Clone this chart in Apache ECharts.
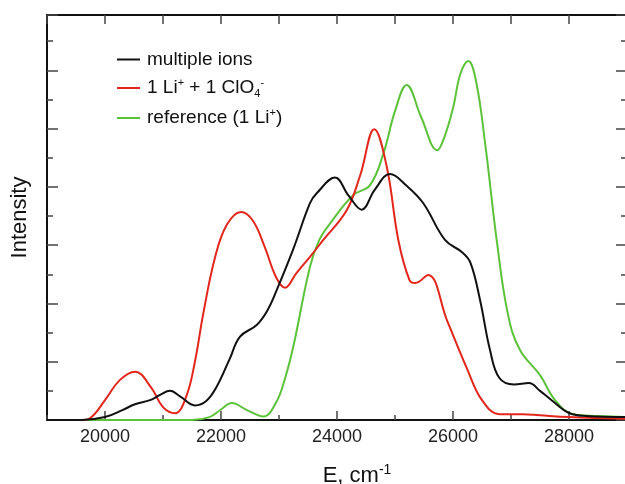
<!DOCTYPE html>
<html>
<head>
<meta charset="utf-8">
<script src="https://cdn.jsdelivr.net/npm/echarts@6/dist/echarts.min.js"></script>
<style>html,body{margin:0;padding:0;background:#fff}#c{width:625px;height:484px}</style>
</head>
<body>
<div id="c"></div>
<script>
// ---- data ----
var seriesNames = ['multiple ions', '1 Li+ + 1 ClO4-', 'reference (1 Li+)'];
var xTickLabels = ['20000', '22000', '24000', '26000', '28000'];

var blackE = [19000, 19600, 20000, 20300, 20517, 20776, 20950, 21121, 21300, 21552, 21750, 21925, 22150, 22328, 22615, 22800, 22960, 23241, 23534, 23650, 23966, 24200, 24426, 24650, 24914, 25200, 25488, 25862, 26155, 26300, 26466, 26638, 26800, 27052, 27310, 27500, 27700, 28000, 28300, 29000];
var blackI = [0.0, 0.0, 0.05, 0.17, 0.27, 0.34, 0.43, 0.50, 0.40, 0.25, 0.33, 0.57, 1.05, 1.43, 1.63, 1.88, 2.23, 2.92, 3.72, 3.89, 4.16, 3.85, 3.61, 3.95, 4.22, 4.02, 3.72, 3.09, 2.88, 2.70, 2.06, 1.20, 0.72, 0.61, 0.635, 0.50, 0.34, 0.12, 0.07, 0.05];

var redE = [19000, 19600, 19741, 20000, 20250, 20517, 20800, 21000, 21207, 21400, 21550, 21695, 21900, 22100, 22345, 22550, 22750, 22950, 23103, 23300, 23534, 23764, 24167, 24400, 24643, 24857, 25057, 25250, 25350, 25570, 25900, 26250, 26500, 26800, 27200, 27500, 28000, 29000];
var redI = [0.0, 0.0, 0.03, 0.34, 0.68, 0.83, 0.55, 0.22, 0.115, 0.40, 1.00, 1.83, 2.80, 3.35, 3.57, 3.42, 2.98, 2.45, 2.27, 2.52, 2.80, 3.09, 3.60, 4.20, 4.99, 4.35, 3.09, 2.40, 2.35, 2.49, 1.70, 0.86, 0.34, 0.10, 0.10, 0.08, 0.05, 0.02];

var greenE = [19000, 21500, 21800, 22000, 22184, 22450, 22730, 22950, 23100, 23247, 23534, 23695, 23879, 24281, 24569, 24799, 25000, 25201, 25450, 25729, 25850, 26000, 26130, 26264, 26400, 26560, 26753, 26950, 27155, 27500, 27760, 28070, 28500, 29000];
var greenI = [0.0, 0.0, 0.05, 0.18, 0.29, 0.17, 0.06, 0.30, 0.70, 1.26, 2.63, 3.09, 3.37, 3.86, 4.03, 4.57, 5.30, 5.75, 5.20, 4.63, 4.85, 5.35, 5.95, 6.16, 5.80, 4.70, 3.09, 1.80, 1.20, 0.77, 0.34, 0.10, 0.07, 0.05];

function pairs(xs, ys) { return xs.map(function (x, i) { return [x, ys[i]]; }); }

var FONT = '"Liberation Sans", Arial, Helvetica, sans-serif';
var chart = echarts.init(document.getElementById('c'), null, {renderer: 'canvas'});

var tickColor = '#444';
var tickWidth = 1.5;
var X_MIN = 19000, X_MAX = 29000;
var yCommon = {type: 'value', min: 0, max: 6.95, interval: 1};
var G_LEFT = 47, G_RIGHT = -2, G_TOP = 15, G_BOTTOM = 64;
var plotW = 625 - G_LEFT - G_RIGHT;
// second grid starts at the first labelled tick so its major ticks fall on 20000, 22000, ...
var majorStart = Number(xTickLabels[0]);
var grid2Left = G_LEFT + plotW * (majorStart - X_MIN) / (X_MAX - X_MIN);

chart.setOption({
  animation: false,
  backgroundColor: '#fff',
  textStyle: {fontFamily: FONT},
  grid: [
    {left: G_LEFT, right: G_RIGHT, top: G_TOP, bottom: G_BOTTOM, containLabel: false, outerBoundsMode: 'none'},
    {left: grid2Left, right: G_RIGHT, top: G_TOP, bottom: G_BOTTOM, containLabel: false, outerBoundsMode: 'none'}
  ],
  legend: {
    orient: 'vertical', left: 112, top: 45, itemGap: 8,
    icon: 'rect', itemWidth: 23, itemHeight: 2,
    data: seriesNames,
    textStyle: {
      fontFamily: FONT, fontSize: 19, color: '#111', padding: [0, 0, 0, 2],
      rich: {
        n: {fontFamily: FONT, fontSize: 19, color: '#111', lineHeight: 22},
        sup: {fontFamily: FONT, fontSize: 11, color: '#111', verticalAlign: 'top', lineHeight: 11},
        sub: {fontFamily: FONT, fontSize: 11, color: '#111', verticalAlign: 'bottom', lineHeight: 11}
      }
    },
    formatter: function (name) {
      if (name === seriesNames[1]) return '{n|1 Li}{sup|+}{n| + 1 ClO}{sub|4}{sup|-}';
      if (name === seriesNames[2]) return '{n|reference (1 Li}{sup|+}{n|)}';
      return '{n|' + name + '}';
    }
  },
  xAxis: [
    {
      type: 'value', min: X_MIN, max: X_MAX, interval: 1000,
      gridIndex: 0, position: 'bottom',
      name: '{n|E, cm}{sup|-1}', nameLocation: 'middle', nameGap: 43,
      nameTextStyle: {
        padding: [0, 0, 0, 40],
        rich: {
          n: {fontFamily: FONT, fontSize: 22, color: '#111', lineHeight: 26},
          sup: {fontFamily: FONT, fontSize: 14, color: '#111', verticalAlign: 'top', lineHeight: 14}
        }
      },
      axisLine: {show: true, onZero: false, lineStyle: {color: '#111', width: 2}},
      axisTick: {show: true, inside: true, length: 5, lineStyle: {color: tickColor, width: tickWidth}},
      splitLine: {show: false},
      axisLabel: {
        show: true, margin: 8, fontSize: 18, color: '#222', fontFamily: FONT,
        formatter: function (v) { var s = String(v); return xTickLabels.indexOf(s) >= 0 ? s : ''; }
      }
    },
    {
      type: 'value', min: X_MIN, max: X_MAX, interval: 1000,
      gridIndex: 0, position: 'top',
      axisLine: {show: true, onZero: false, lineStyle: {color: '#111', width: 2}},
      axisTick: {show: true, inside: true, length: 9, lineStyle: {color: tickColor, width: tickWidth}},
      axisLabel: {show: false},
      splitLine: {show: false}
    },
    {
      type: 'value', min: majorStart, max: X_MAX, interval: 2000,
      gridIndex: 1, position: 'bottom',
      axisLine: {show: false, onZero: false},
      axisTick: {show: true, inside: true, length: 9, lineStyle: {color: tickColor, width: tickWidth}},
      axisLabel: {show: false},
      splitLine: {show: false}
    }
  ],
  yAxis: [
    Object.assign({}, yCommon, {
      gridIndex: 0, position: 'left',
      name: 'Intensity', nameLocation: 'middle', nameGap: 16,
      nameTextStyle: {fontFamily: FONT, fontSize: 22, color: '#111'},
      axisLine: {show: true, onZero: false, lineStyle: {color: '#111', width: 2}},
      axisTick: {show: true, inside: true, length: 11, lineStyle: {color: tickColor, width: tickWidth}},
      minorTick: {show: true, splitNumber: 2, length: 6, lineStyle: {color: tickColor, width: tickWidth}},
      axisLabel: {show: false},
      splitLine: {show: false}
    }),
    Object.assign({}, yCommon, {
      gridIndex: 0, position: 'right',
      axisLine: {show: true, onZero: false, lineStyle: {color: '#111', width: 2}},
      axisTick: {show: true, inside: true, length: 11, lineStyle: {color: tickColor, width: tickWidth}},
      minorTick: {show: true, splitNumber: 2, length: 6, lineStyle: {color: tickColor, width: tickWidth}},
      axisLabel: {show: false},
      splitLine: {show: false}
    }),
    Object.assign({}, yCommon, {gridIndex: 1, show: false})
  ],
  series: [
    {name: seriesNames[2], type: 'line', xAxisIndex: 0, yAxisIndex: 0, data: pairs(greenE, greenI), smooth: 0.4, showSymbol: false, symbol: 'none',
     lineStyle: {color: '#5cc23a', width: 2}, itemStyle: {color: '#5cc23a'}, z: 2},
    {name: seriesNames[1], type: 'line', xAxisIndex: 0, yAxisIndex: 0, data: pairs(redE, redI), smooth: 0.4, showSymbol: false, symbol: 'none',
     lineStyle: {color: '#e2261c', width: 2}, itemStyle: {color: '#e2261c'}, z: 3},
    {name: seriesNames[0], type: 'line', xAxisIndex: 0, yAxisIndex: 0, data: pairs(blackE, blackI), smooth: 0.4, showSymbol: false, symbol: 'none',
     lineStyle: {color: '#111111', width: 2}, itemStyle: {color: '#111111'}, z: 4}
  ]
});
</script>
</body>
</html>
